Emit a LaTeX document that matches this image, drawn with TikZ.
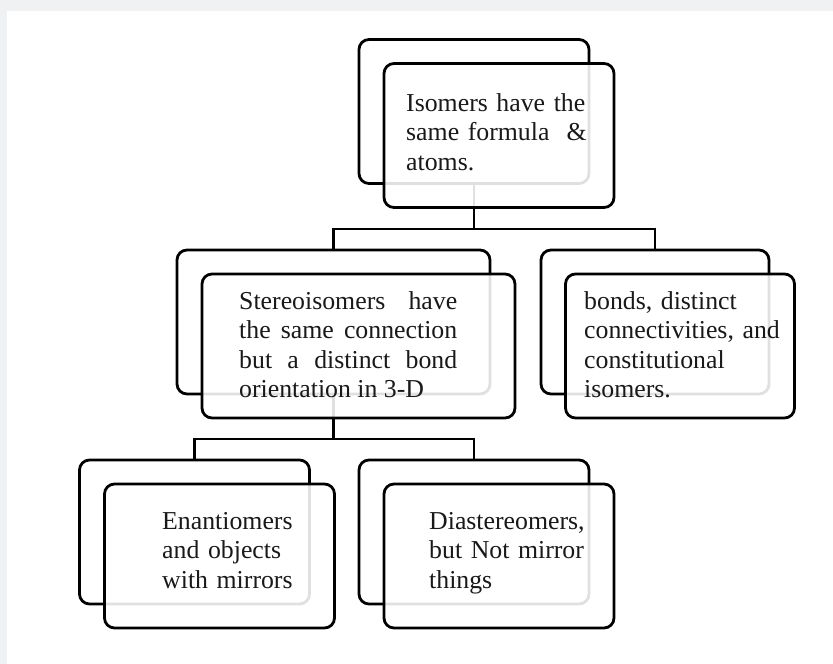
\documentclass[tikz,border=0pt]{standalone}
\usepackage{fontspec}
\setmainfont{Liberation Serif}
\usetikzlibrary{positioning}
\definecolor{pagegray}{HTML}{EFF1F3}
\tikzset{
  backbox/.style={draw=black, line width=2.8pt, rounded corners=10pt, fill=white,
    minimum width=230pt, minimum height=144pt, inner sep=0pt},
  frontbox/.style={backbox, fill opacity=0.88, draw opacity=1},
  wire/.style={draw=black, line width=2.8pt},
  boxtext/.style={anchor=base west, inner sep=0pt, text=black!90,
    font=\fontsize{25.8}{29.6}\selectfont, align=left, text width=215pt}
}

\begin{document}
\begin{tikzpicture}[x=1pt,y=-1pt]
  \useasboundingbox (0,0) rectangle (833,664);
  \fill[pagegray] (0,0) rectangle (833,664);
  \fill[white] (7,11) rectangle (833,664);

  % back cards
  \node[backbox] (isoB) at (474,111.5) {};
  \node[backbox, minimum width=313pt] (stereoB) at (333.5,322) {};
  \node[backbox, minimum width=228pt] (constB) at (655,322) {};
  \node[backbox] (enanB) at (194.5,532) {};
  \node[backbox] (diaB) at (474,532) {};

  % tree lines
  \coordinate (bar1) at (474,229);
  \coordinate (bar2) at (333.5,439);
  \draw[wire] (isoB.south) -- (bar1);
  \draw[wire] (stereoB.north) |- (bar1) -| (constB.north);
  \draw[wire] (stereoB.south) -- (bar2);
  \draw[wire] (enanB.north) |- (bar2) -| (diaB.north);

  % front cards
  \node[frontbox] (isoF) at ([shift={(25,24)}]isoB.center) {};
  \node[frontbox, minimum width=313pt] (stereoF) at ([shift={(25,24)}]stereoB.center) {};
  \node[frontbox, minimum width=229pt] (constF) at ([shift={(25,24)}]constB.center) {};
  \node[frontbox] (enanF) at ([shift={(25,24)}]enanB.center) {};
  \node[frontbox] (diaF) at ([shift={(25,24)}]diaB.center) {};

  % texts
  \node[boxtext] (isoT) at (406,111) {Isomers have the\\ same formula~~\&\\ atoms.};
  \node[boxtext, text width=218pt, align=justify] (stereoT) at (239,309)
    {Stereoisomers have\linebreak the same connection\linebreak but a distinct bond\linebreak orientation in 3-D};
  \node[boxtext] (constT) at (584,309) {bonds, distinct\\ connectivities, and\\ constitutional\\ isomers.};
  \node[boxtext] (enanT) at (162,529) {Enantiomers\\ and objects\\ with mirrors};
  \node[boxtext] (diaT) at (429,529) {Diastereomers,\\ but Not mirror\\ things};
\end{tikzpicture}
\end{document}
